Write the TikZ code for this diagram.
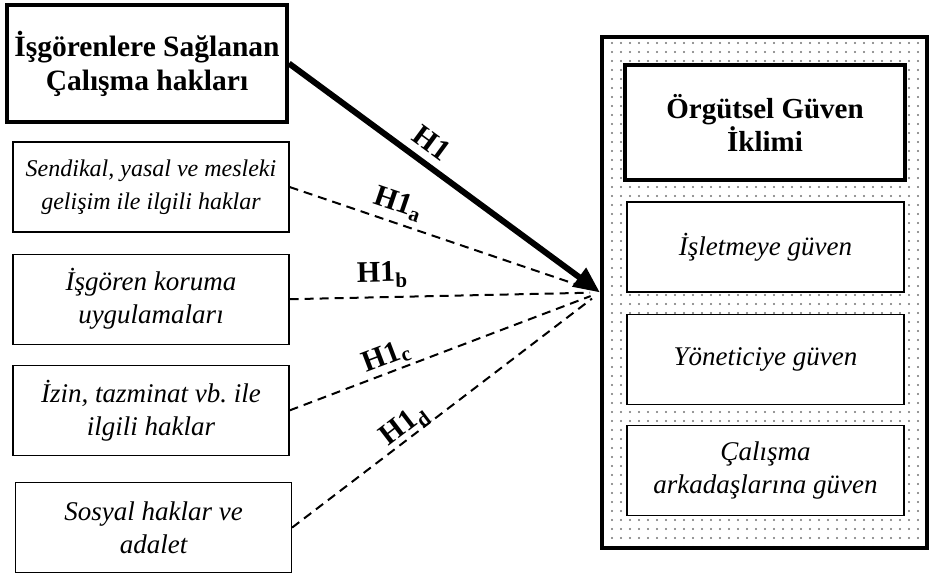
\documentclass[tikz,border=0pt]{standalone}
\usepackage{fontspec}
\setmainfont{Liberation Serif}
\usetikzlibrary{shapes,arrows.meta}
\usetikzlibrary{positioning}
\usetikzlibrary{patterns.meta}
\tikzstyle{bigbox} = [draw, line width=4pt, align=center, fill=white,
font=\bfseries\fontsize{29.5}{34}\selectfont]
\tikzstyle{subbox} = [draw, fill=white, line width=1.2pt, align=center,
minimum width=276pt, minimum height=90pt, font=\itshape\fontsize{27}{33}\selectfont]
\tikzstyle{line} = [draw, line width=6pt, -{Triangle[length=26pt,width=22pt]}]
\tikzstyle{dline} = [draw, line width=2pt, dash pattern=on 9pt off 6pt, shorten >=10pt]
\tikzstyle{hlabel} = [font=\bfseries\fontsize{30}{30}\selectfont, sloped, above]
\frenchspacing

\begin{document}
\begin{tikzpicture}[x=1pt, y=1pt]
	\useasboundingbox (0,0) rectangle (929,574);
	%% left side
	\node [bigbox, minimum width=280pt, minimum height=117pt] (isg) at (147,510.5) {İşgörenlere Sağlanan\\Çalışma hakları};
	\node [subbox, font=\itshape\fontsize{24}{33}\selectfont] (send) at (151,387) {Sendikal, yasal ve mesleki\\gelişim ile ilgili haklar};
	\node [subbox, below=21pt of send] (koru) {İşgören koruma\\uygulamaları};
	\node [subbox, below=20pt of koru] (izin) {İzin, tazminat vb. ile\\ilgili haklar};
	\node [subbox, below=26pt of izin, xshift=2.5pt] (sosy) {Sosyal haklar ve\\adalet};
	%% right side
	\node [draw, line width=4pt, pattern={Dots[distance=9pt,radius=1.2pt]}, pattern color=black!55,
		minimum width=325pt, minimum height=511pt] (guv) at (764.5,281.5) {};
	\node [bigbox, minimum width=280pt, minimum height=115pt, font=\bfseries\fontsize{29}{33}\selectfont] (org) at (765,451.5) {Örgütsel Güven\\İklimi};
	\node [subbox, minimum width=277pt] (islt) at (765.5,327) {İşletmeye güven};
	\node [subbox, minimum width=277pt, below=21pt of islt] (yone) {Yöneticiye güven};
	\node [subbox, minimum width=277pt, below=20pt of yone] (calis) {Çalışma\\arkadaşlarına güven};
	%% Flows
	\path [dline] (send.east) to node [hlabel, pos=0.33, above=3pt] {H1\textsubscript{a}} (guv.west);
	\path [dline] (koru.east) to node [hlabel, pos=0.3, above=5pt] {H1\textsubscript{b}} (guv.west);
	\path [dline] (izin.east) to node [hlabel, pos=0.33] {H1\textsubscript{c}} (guv.west);
	\path [dline] (sosy.east) to node [hlabel, pos=0.39, above=-5pt] {H1\textsubscript{d}} (guv.west);
	\path [line] (isg.east) to node [hlabel, pos=0.42, above=4pt] {H1} (guv.west);
\end{tikzpicture}
\end{document}
